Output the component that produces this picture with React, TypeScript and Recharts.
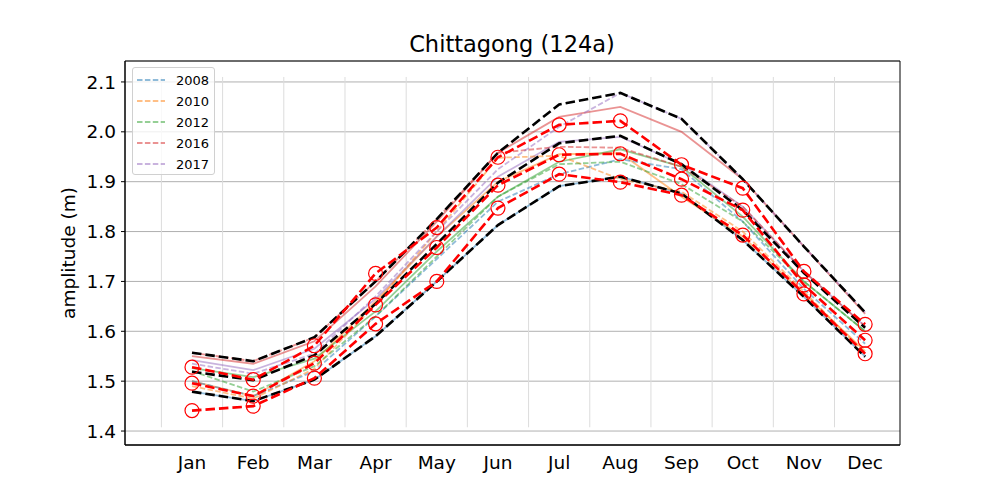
import { LineChart, Line, XAxis, YAxis, CartesianGrid, ReferenceLine, ReferenceArea } from "recharts";

const months = ["Jan", "Feb", "Mar", "Apr", "May", "Jun", "Jul", "Aug", "Sep", "Oct", "Nov", "Dec"];
const monthNum = [1, 2, 3, 4, 5, 6, 7, 8, 9, 10, 11, 12];
const monthEdges = [0.5, 1.5, 2.5, 3.5, 4.5, 5.5, 6.5, 7.5, 8.5, 9.5, 10.5, 11.5];
const yTicks = [1.4, 1.5, 1.6, 1.7, 1.8, 1.9, 2.0, 2.1];

// yearly curves, dashed and solid variants
const years = ["2008", "2010", "2012", "2016", "2017"];
const yearColors = ["#1f77b4", "#ff7f0e", "#2ca02c", "#d62728", "#9467bd"];

const dashed2008 = [1.5, 1.47, 1.52, 1.63, 1.745, 1.86, 1.915, 1.945, 1.925, 1.82, 1.685, 1.575];
const dashed2010 = [1.49, 1.465, 1.525, 1.655, 1.8, 1.948, 1.952, 1.905, 1.88, 1.8, 1.68, 1.555];
const dashed2012 = [1.52, 1.479, 1.53, 1.63, 1.75, 1.87, 1.935, 1.94, 1.895, 1.82, 1.7, 1.6];
const dashed2016 = [1.557, 1.54, 1.588, 1.7, 1.825, 1.958, 1.97, 1.968, 1.93, 1.85, 1.72, 1.61];
const dashed2017 = [1.535, 1.515, 1.555, 1.67, 1.8, 1.925, 2.01, 2.078, 2.026, 1.905, 1.77, 1.638];

const solid2008 = [1.479, 1.46, 1.503, 1.59, 1.7, 1.813, 1.891, 1.91, 1.876, 1.783, 1.669, 1.549];
const solid2010 = [1.5, 1.47, 1.54, 1.66, 1.79, 1.9, 1.955, 1.957, 1.87, 1.79, 1.675, 1.56];
const solid2012 = [1.526, 1.508, 1.545, 1.64, 1.76, 1.87, 1.94, 1.965, 1.93, 1.83, 1.7, 1.6];
const solid2016 = [1.55, 1.535, 1.58, 1.69, 1.82, 1.958, 2.03, 2.05, 2.0, 1.905, 1.77, 1.635];
const solid2017 = [1.542, 1.522, 1.565, 1.665, 1.79, 1.91, 1.98, 1.99, 1.935, 1.85, 1.72, 1.61];

// black envelope
const envMax = [1.557, 1.54, 1.588, 1.7, 1.825, 1.958, 2.055, 2.078, 2.026, 1.905, 1.77, 1.638];
const envMean = [1.519, 1.502, 1.552, 1.655, 1.775, 1.898, 1.977, 1.992, 1.935, 1.843, 1.717, 1.607];
const envMin = [1.479, 1.46, 1.503, 1.59, 1.7, 1.813, 1.891, 1.91, 1.876, 1.783, 1.669, 1.549];

// red circles
const obsTop = [1.528, 1.503, 1.571, 1.716, 1.808, 1.949, 2.014, 2.022, 1.934, 1.887, 1.72, 1.614];
const obsMid = [1.496, 1.47, 1.536, 1.653, 1.768, 1.893, 1.954, 1.956, 1.905, 1.843, 1.693, 1.582];
const obsLow = [1.441, 1.45, 1.506, 1.615, 1.7, 1.847, 1.915, 1.899, 1.873, 1.793, 1.675, 1.555];

const dashedSets = [dashed2008, dashed2010, dashed2012, dashed2016, dashed2017];
const solidSets = [solid2008, solid2010, solid2012, solid2016, solid2017];

const data = monthNum.map((m, i) => {
  const row: Record<string, number> = { m };
  years.forEach((y, k) => {
    row["d" + y] = dashedSets[k][i];
    row["s" + y] = solidSets[k][i];
  });
  row.envMax = envMax[i];
  row.envMean = envMean[i];
  row.envMin = envMin[i];
  row.obsTop = obsTop[i];
  row.obsMid = obsMid[i];
  row.obsLow = obsLow[i];
  return row;
});

const X_DOMAIN = [-0.095, 12.57];
const Y_DOMAIN = [1.372, 2.142];
const FONT = "DejaVu Sans, sans-serif";

const circleDot = (props: any) => {
  const { cx, cy, index } = props;
  return <circle key={index} cx={cx} cy={cy} r={7} stroke="red" strokeWidth={1.2} fill="none" />;
};

function ChartLegend() {
  return (
    <div
      style={{
        position: "absolute",
        left: 132,
        top: 67,
        width: 83,
        height: 108,
        border: "1px solid #d0d0d0",
        borderRadius: 3,
        background: "rgba(255,255,255,0.8)",
        boxSizing: "border-box",
        fontFamily: FONT,
        fontSize: 13,
      }}
    >
      {years.map((y, k) => (
        <div key={y} style={{ position: "absolute", left: 3, top: 4 + k * 21, height: 16, display: "flex", alignItems: "center" }}>
          <svg width={30} height={10}>
            <line x1={1} x2={29} y1={5} y2={5} stroke={yearColors[k]} strokeOpacity={0.5} strokeWidth={1.8} strokeDasharray="5.5 2.4" />
          </svg>
          <span style={{ marginLeft: 10 }}>{y}</span>
        </div>
      ))}
    </div>
  );
}

export default function App() {
  return (
    <div style={{ position: "relative", width: 1000, height: 500, fontFamily: FONT }}>
      <style>{`body{margin:0}`}</style>
      <LineChart width={1000} height={500} data={data} margin={{ top: 61, right: 100, bottom: 0, left: 0 }}>
        <CartesianGrid vertical={false} stroke="#b0b0b0" strokeWidth={1} />
        {monthEdges.map((x) => (
          <ReferenceLine
            key={x}
            segment={[
              { x, y: 1.4075 },
              { x, y: 2.11 },
            ]}
            stroke="#dcdcdc"
            strokeWidth={1}
          />
        ))}
        <XAxis
          dataKey="m"
          type="number"
          domain={X_DOMAIN}
          allowDataOverflow
          ticks={monthNum}
          tickFormatter={(v) => months[v - 1]}
          tickLine={false}
          tickSize={0}
          tickMargin={11}
          height={55}
          axisLine={{ stroke: "#000" }}
          tick={{ fill: "#000", fontSize: 18.5, fontFamily: FONT }}
          interval={0}
        />
        <YAxis
          type="number"
          domain={Y_DOMAIN}
          allowDataOverflow
          ticks={yTicks}
          tickFormatter={(v) => v.toFixed(1)}
          width={125}
          tickSize={4}
          tickMargin={5}
          axisLine={{ stroke: "#000" }}
          tickLine={{ stroke: "#000" }}
          tick={{ fill: "#000", fontSize: 18.5, fontFamily: FONT }}
        />
        {years.map((y, k) => (
          <Line
            key={"s" + y}
            dataKey={"s" + y}
            stroke={yearColors[k]}
            strokeOpacity={0.5}
            strokeWidth={1.8}
            dot={false}
            isAnimationActive={false}
          />
        ))}
        {years.map((y, k) => (
          <Line
            key={"d" + y}
            dataKey={"d" + y}
            stroke={yearColors[k]}
            strokeOpacity={0.5}
            strokeWidth={1.8}
            strokeDasharray="5.5 2.4"
            dot={false}
            isAnimationActive={false}
          />
        ))}
        {["envMax", "envMean", "envMin"].map((k) => (
          <Line key={k} dataKey={k} stroke="#000" strokeWidth={2.6} strokeDasharray="9.5 4" dot={false} isAnimationActive={false} />
        ))}
        {["obsTop", "obsMid", "obsLow"].map((k) => (
          <Line key={k} dataKey={k} stroke="red" strokeWidth={2.6} strokeDasharray="9.5 4" dot={circleDot} activeDot={false} isAnimationActive={false} />
        ))}
        <ReferenceArea x1={X_DOMAIN[0]} x2={X_DOMAIN[1]} y1={Y_DOMAIN[0]} y2={Y_DOMAIN[1]} fill="none" stroke="#000" strokeWidth={1} ifOverflow="visible" />
      </LineChart>
      <div
        style={{
          position: "absolute",
          left: 512,
          top: 44,
          transform: "translate(-50%, -50%)",
          fontSize: 22.5,
          whiteSpace: "nowrap",
        }}
      >
        Chittagong (124a)
      </div>
      <div
        style={{
          position: "absolute",
          left: 68,
          top: 253,
          transform: "translate(-50%, -50%) rotate(-90deg)",
          fontSize: 18.5,
          whiteSpace: "nowrap",
        }}
      >
        amplitude (m)
      </div>
      <ChartLegend />
    </div>
  );
}
